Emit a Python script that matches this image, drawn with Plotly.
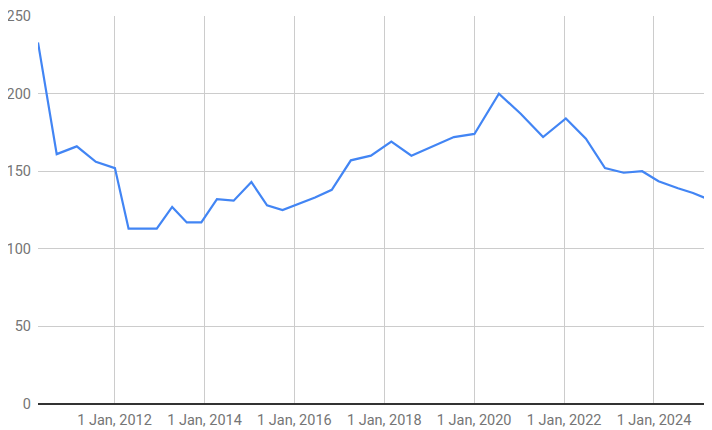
import plotly.graph_objects as go

dates = [
    "2010-04-19", "2010-09-18", "2011-02-28", "2011-08-02", "2012-01-04",
    "2012-04-24", "2012-12-09", "2013-04-13", "2013-08-10", "2013-12-06",
    "2014-04-12", "2014-08-26", "2015-01-17", "2015-05-24", "2015-09-27",
    "2016-02-01", "2016-06-17", "2016-10-31", "2017-04-04", "2017-09-14",
    "2018-02-27", "2018-08-09", "2019-01-25", "2019-07-20", "2020-01-03",
    "2020-07-20", "2021-01-13", "2021-07-14", "2022-01-15", "2022-06-27",
    "2022-11-29", "2023-04-30", "2023-09-27", "2024-02-07", "2024-07-14",
    "2024-11-13", "2025-03-15",
]
values = [
    233, 161, 166, 156, 152,
    113, 113, 127, 117, 117,
    132, 131, 143, 128, 125,
    129, 133, 138, 157, 160,
    169, 160, 166, 172, 174,
    200, 187, 172, 184, 171,
    152, 149, 150, 143.5, 139,
    136, 132,
]
tick_vals = ["2012-01-01", "2014-01-01", "2016-01-01", "2018-01-01",
             "2020-01-01", "2022-01-01", "2024-01-01"]
tick_text = ["1 Jan, 2012", "1 Jan, 2014", "1 Jan, 2016", "1 Jan, 2018",
             "1 Jan, 2020", "1 Jan, 2022", "1 Jan, 2024"]
y_ticks = [0, 50, 100, 150, 200, 250]

fig = go.Figure()
fig.add_trace(go.Scatter(
    x=dates, y=values, mode="lines",
    line=dict(color="#4285F4", width=2.2),
    hoverinfo="x+y",
))

fnt = dict(family="Roboto", size=14.5, color="#757575")
fig.update_layout(
    width=704, height=422,
    margin=dict(l=30, r=4, t=8, b=26),
    paper_bgcolor="white", plot_bgcolor="white",
    font=fnt,
    showlegend=False,
    xaxis=dict(
        range=[dates[0], dates[-1]], automargin=False,
        tickmode="array", tickvals=tick_vals, ticktext=tick_text,
        showgrid=True, gridcolor="#cccccc", gridwidth=1,
        zeroline=False, showline=False, ticks="",
        ticklabelstandoff=5,
        tickfont=fnt,
    ),
    yaxis=dict(
        range=[0, 250], automargin=False,
        tickmode="array", tickvals=y_ticks,
        showgrid=True, gridcolor="#cccccc", gridwidth=1,
        zeroline=True, zerolinecolor="#333333", zerolinewidth=1.5,
        showline=False, ticks="",
        ticklabelstandoff=6,
        tickfont=fnt,
    ),
)

fig.write_html("out.html")
